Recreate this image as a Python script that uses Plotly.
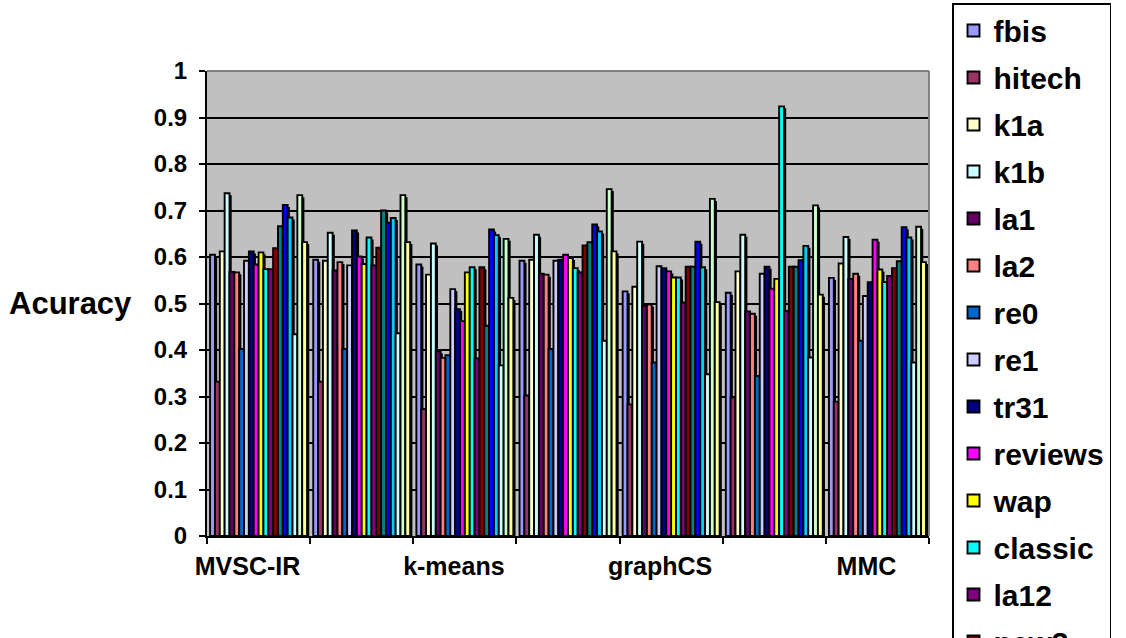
import plotly.graph_objects as go

# ---------------- data ----------------
categories = ["MVSC-IR", "MVSC-IV", "k-means", "Spkmeans", "graphCS", "graphEJ", "MMC"]
tick_labels = ["MVSC-IR", "", "k-means", "", "graphCS", "", "MMC"]

series_names = ["fbis", "hitech", "k1a", "k1b", "la1", "la2", "re0", "re1", "tr31",
                "reviews", "wap", "classic", "la12", "new3", "sports", "tr11",
                "tr12", "tr23", "tr41", "tr45"]

fbis    = [0.605, 0.594, 0.584, 0.592, 0.526, 0.523, 0.555]
hitech  = [0.332, 0.332, 0.273, 0.302, 0.283, 0.298, 0.289]
k1a     = [0.612, 0.592, 0.562, 0.594, 0.536, 0.569, 0.586]
k1b     = [0.737, 0.652, 0.629, 0.648, 0.633, 0.648, 0.643]
la1     = [0.568, 0.571, 0.397, 0.564, 0.495, 0.483, 0.553]
la2     = [0.567, 0.589, 0.383, 0.562, 0.498, 0.478, 0.564]
re0     = [0.402, 0.402, 0.389, 0.402, 0.373, 0.344, 0.420]
re1     = [0.592, 0.582, 0.531, 0.592, 0.580, 0.564, 0.516]
tr31    = [0.612, 0.657, 0.488, 0.594, 0.576, 0.579, 0.546]
reviews = [0.584, 0.601, 0.462, 0.605, 0.569, 0.532, 0.637]
wap     = [0.610, 0.585, 0.567, 0.598, 0.556, 0.553, 0.573]
classic = [0.574, 0.642, 0.578, 0.576, 0.556, 0.924, 0.546]
la12    = [0.574, 0.582, 0.382, 0.567, 0.502, 0.484, 0.559]
new3    = [0.619, 0.620, 0.578, 0.625, 0.579, 0.579, 0.576]
sports  = [0.666, 0.700, 0.452, 0.632, 0.579, 0.579, 0.591]
tr11    = [0.712, 0.674, 0.659, 0.670, 0.633, 0.593, 0.664]
tr12    = [0.685, 0.684, 0.647, 0.655, 0.578, 0.624, 0.642]
tr23    = [0.434, 0.436, 0.367, 0.420, 0.348, 0.384, 0.373]
tr41    = [0.733, 0.733, 0.639, 0.746, 0.725, 0.711, 0.665]
tr45    = [0.632, 0.632, 0.512, 0.612, 0.503, 0.519, 0.589]

series_values = [fbis, hitech, k1a, k1b, la1, la2, re0, re1, tr31, reviews, wap,
                 classic, la12, new3, sports, tr11, tr12, tr23, tr41, tr45]

colors = ["#9999FF", "#993366", "#FFFFCC", "#CCFFFF", "#660066", "#FF8080",
          "#0066CC", "#CCCCFF", "#000080", "#FF00FF", "#FFFF00", "#00FFFF",
          "#800080", "#800000", "#008080", "#0000FF", "#00CCFF", "#CCFFFF",
          "#CCFFCC", "#FFFF99"]

# ---------------- layout constants ----------------
W, H = 1126, 638
ML, MR, MT, MB = 207, 197, 71, 102
plot_w = W - ML - MR
plot_h = H - MT - MB
cat_px = plot_w / len(categories)

n = len(series_names)
group_frac = 0.94
bar_w = group_frac / n
start = -group_frac / 2
shadow_dx = 2.2 / cat_px          # shadow offset (category units)
shadow_dy = 2.0 / plot_h          # shadow offset (value units)

FONT = "Liberation Sans, Arial, sans-serif"

fig = go.Figure()
for i, (name, vals, col) in enumerate(zip(series_names, series_values, colors)):
    off = start + i * bar_w
    # drop shadow (Excel style)
    fig.add_trace(go.Bar(
        x=categories, y=[v - shadow_dy for v in vals], name=name,
        offset=off + shadow_dx, width=bar_w,
        marker=dict(color="black", line=dict(width=0)),
        legendgroup=name, showlegend=False, hoverinfo="skip"))
    fig.add_trace(go.Bar(
        x=categories, y=vals, name=name,
        offset=off, width=bar_w,
        marker=dict(color=col, line=dict(color="black", width=1.9)),
        legendgroup=name))

fig.update_layout(
    width=W, height=H,
    margin=dict(l=ML, r=MR, t=MT, b=MB),
    barmode="overlay",
    paper_bgcolor="white",
    plot_bgcolor="#C0C0C0",
    font=dict(family=FONT, color="black", size=24, weight="bold"),
    xaxis=dict(
        type="category", tickvals=categories, ticktext=tick_labels,
        tickson="boundaries", ticks="outside", ticklen=6, tickwidth=1.5,
        tickangle=0, automargin=False, ticklabelshift=-11, ticklabelstandoff=7,
        tickcolor="black", showline=True, linecolor="black", linewidth=2,
        showgrid=False, tickfont=dict(family=FONT, size=25, weight="bold"),
        range=[-0.5, len(categories) - 0.5]),
    yaxis=dict(
        range=[0, 1], dtick=0.1, tick0=0, showgrid=True, gridcolor="black",
        gridwidth=1.6, zeroline=False, showline=True, linecolor="black",
        linewidth=2, ticks="outside", ticklen=6, tickwidth=1.5, tickcolor="black",
        ticklabelstandoff=7, automargin=False,
        tickfont=dict(family=FONT, size=24, weight="bold")),
    legend=dict(
        xref="container", yref="container", x=952 / W, y=1 - 3 / H,
        xanchor="left", yanchor="top", bgcolor="white",
        bordercolor="black", borderwidth=1.5, maxheight=1200,
        font=dict(family=FONT, size=30, weight="bold", color="black"),
        traceorder="grouped", tracegroupgap=5),
    showlegend=True,
)

# gray plot-area border (top / right)
fig.add_shape(type="line", xref="paper", yref="paper", x0=0, x1=1, y0=1, y1=1,
              line=dict(color="#808080", width=2))
fig.add_shape(type="line", xref="paper", yref="paper", x0=1, x1=1, y0=0, y1=1,
              line=dict(color="#808080", width=2))

fig.add_annotation(text="Acuracy", xref="paper", yref="paper",
                   x=(70 - ML) / plot_w, y=(H - MB - 303) / plot_h,
                   showarrow=False, xanchor="center", yanchor="middle",
                   font=dict(family=FONT, size=31, weight="bold", color="black"))

fig.write_html("out.html", config={"displayModeBar": False},
               post_script="document.body.style.margin='0px';")
